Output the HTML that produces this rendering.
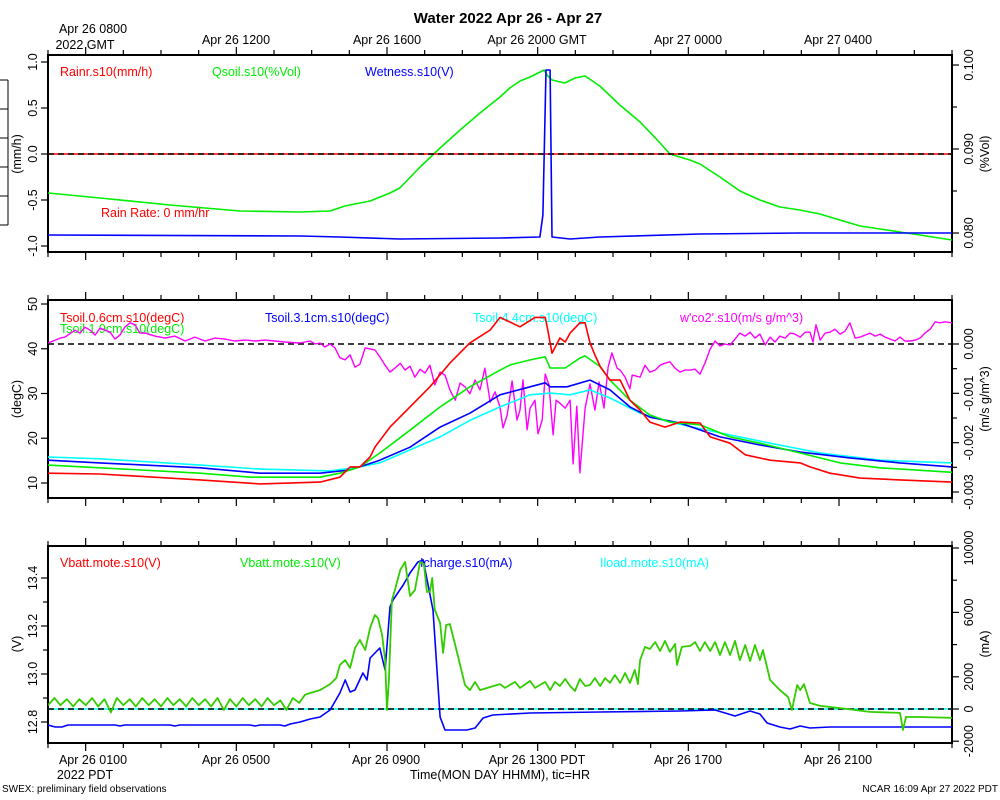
<!DOCTYPE html>
<html><head><meta charset="utf-8"><style>
html,body{margin:0;padding:0;background:#fff;}
svg{display:block;font-family:"Liberation Sans",sans-serif;}
</style></head><body>
<svg id="chart" width="1000" height="800" viewBox="0 0 1000 800">
<defs>
<clipPath id="c1"><rect x="48" y="55" width="904" height="197"/></clipPath>
<clipPath id="c2"><rect x="48" y="300" width="904" height="198"/></clipPath>
<clipPath id="c3"><rect x="48" y="546" width="904" height="197"/></clipPath>
</defs>
<text x="508" y="23" text-anchor="middle" font-size="15" font-weight="bold">Water 2022 Apr 26 - Apr 27</text>
<g font-size="12.5" fill="#000">
<text x="93" y="33" text-anchor="middle">Apr 26 0800</text>
<text x="85" y="49" text-anchor="middle">2022 GMT</text>
<text x="236" y="44" text-anchor="middle">Apr 26 1200</text>
<text x="387" y="44" text-anchor="middle">Apr 26 1600</text>
<text x="537" y="44" text-anchor="middle">Apr 26 2000 GMT</text>
<text x="688" y="44" text-anchor="middle">Apr 27 0000</text>
<text x="838" y="44" text-anchor="middle">Apr 27 0400</text>
</g>
<g font-size="12.5" fill="#000">
<text x="93" y="764" text-anchor="middle">Apr 26 0100</text>
<text x="85" y="779" text-anchor="middle">2022 PDT</text>
<text x="236" y="764" text-anchor="middle">Apr 26 0500</text>
<text x="386" y="764" text-anchor="middle">Apr 26 0900</text>
<text x="537" y="764" text-anchor="middle">Apr 26 1300 PDT</text>
<text x="688" y="764" text-anchor="middle">Apr 26 1700</text>
<text x="838" y="764" text-anchor="middle">Apr 26 2100</text>
<text x="500" y="779" text-anchor="middle">Time(MON DAY HHMM), tic=HR</text>
</g>
<text x="2" y="792" font-size="10">SWEX: preliminary field observations</text>
<text x="998" y="792" font-size="10" text-anchor="end">NCAR 16:09 Apr 27 2022 PDT</text>
<g stroke="#000" stroke-width="1">
<line x1="8" y1="80" x2="8" y2="225"/>
<line x1="0" y1="80" x2="8" y2="80"/><line x1="0" y1="109" x2="8" y2="109"/><line x1="0" y1="138" x2="8" y2="138"/>
<line x1="0" y1="167" x2="8" y2="167"/><line x1="0" y1="196" x2="8" y2="196"/><line x1="0" y1="225" x2="8" y2="225"/>
</g>
<g font-size="12.5">
<text x="60" y="76" fill="#ff0000">Rainr.s10(mm/h)</text>
<text x="212" y="76" fill="#00ee00">Qsoil.s10(%Vol)</text>
<text x="365" y="76" fill="#0000ff">Wetness.s10(V)</text>
<text x="101" y="217" fill="#ff0000">Rain Rate: 0 mm/hr</text>
</g>
<g font-size="12.5">
<text x="60" y="322" fill="#ff0000">Tsoil.0.6cm.s10(degC)</text>
<text x="60" y="333" fill="#00ee00">Tsoil.1.9cm.s10(degC)</text>
<text x="265" y="322" fill="#0000ff">Tsoil.3.1cm.s10(degC)</text>
<text x="473" y="322" fill="#00ffff">Tsoil.4.4cm.s10(degC)</text>
<text x="680" y="322" fill="#ff00ff">w'co2'.s10(m/s g/m^3)</text>
</g>
<g font-size="12.5">
<text x="60" y="567" fill="#ff0000">Vbatt.mote.s10(V)</text>
<text x="240" y="567" fill="#00ee00">Vbatt.mote.s10(V)</text>
<text x="420" y="567" fill="#0000ff">Icharge.s10(mA)</text>
<text x="600" y="567" fill="#00ffff">Iload.mote.s10(mA)</text>
</g>
<g id="plot"></g>
</svg>
<script>
// ---- data (hours since Apr 26 0000 PDT) ----
const qsoilTimes=[0,1.38,3.24,5.10,6.69,7.49,7.88,8.55,9.08,9.34,9.88,10.41,10.94,11.47,12.0,12.26,12.53,12.80,13.17,13.27,13.38,13.72,13.99,14.26,14.65,15.18,15.72,16.25,16.51,17.04,17.31,17.84,18.37,18.90,19.43,19.96,20.49,21.02,21.56,22.09,22.62,23.15,24.0];
const qsoilValues=[0.08476,0.08417,0.08333,0.08262,0.0825,0.08262,0.08321,0.08381,0.08476,0.08536,0.08786,0.09012,0.09226,0.09429,0.09619,0.09726,0.0981,0.09857,0.0994,0.09869,0.09821,0.09786,0.09845,0.09869,0.0975,0.09524,0.09321,0.09071,0.0894,0.08869,0.08821,0.08667,0.085,0.08393,0.0831,0.08274,0.08226,0.08155,0.08083,0.08048,0.08012,0.07976,0.07917];
const wetTimes=[0,6.69,7.75,9.34,12.0,13.06,13.14,13.22,13.33,13.38,13.86,14.65,17.31,19.96,22.62,24];
const wetValues=[-0.88,-0.891,-0.902,-0.924,-0.913,-0.902,-0.663,0.913,0.913,-0.902,-0.924,-0.902,-0.87,-0.859,-0.859,-0.859];
const rainTimes=[0,24];
const rainValues=[0,0];
const t06Times=[0,1.38,4.04,5.63,7.22,7.75,8.02,8.28,8.55,8.68,9.08,9.61,10.14,10.67,11.20,11.74,12.00,12.53,12.93,13.20,13.27,13.38,13.59,13.73,13.86,14.12,14.26,14.39,14.52,14.66,14.92,15.19,15.45,15.72,15.98,16.38,16.78,17.31,17.58,18.11,18.51,19.17,19.97,20.23,20.76,21.56,22.62,24.0];
const t06Values=[12.2,12,10.7,9.8,10.2,11.3,13.6,13.6,15.8,18,22.5,27,31.5,36.8,41.3,44.2,47,44.9,47,47,44.2,39,42.4,41.5,43.5,45.8,45.8,41.3,38.6,36,33,33,28.5,26.3,23.6,22.5,23.6,23.4,20.3,18.9,16.3,15.1,14.5,13.6,12.2,11.1,10.7,10.2];
const t19Times=[0,1.38,4.04,5.37,7.22,7.75,8.28,8.81,9.61,10.41,11.20,12.00,12.27,12.80,13.20,13.33,13.73,14.12,14.26,14.66,14.92,15.45,15.98,16.51,17.31,18.11,18.90,19.97,21.03,22.09,24.0];
const t19Values=[14,13.4,12.2,11.3,11.3,12.2,13.6,16.7,21.8,27,31.5,35.2,36.4,37.5,38.2,35.7,35.7,37.9,38.4,36,33,28.5,25.2,23.6,23,20.3,18.9,16.7,14.5,13.4,12.4];
const t31Times=[0,1.38,4.04,5.63,7.22,8.02,8.81,9.61,10.41,11.20,12.00,12.80,13.20,13.33,13.78,14.39,14.92,15.45,15.98,16.78,17.84,18.90,19.97,21.29,22.62,24.0];
const t31Values=[15.1,14.5,13.4,12.2,12.2,12.9,15.1,18,22.5,25.6,29.7,31.5,32.4,31.5,31.5,33,30.8,27,24.7,23.4,20.3,18.5,16.9,15.6,14.5,13.6];
const t44Times=[0,1.38,4.04,5.63,7.49,8.28,8.81,9.61,10.41,11.20,12.00,12.80,13.33,13.86,14.39,14.92,15.72,16.51,17.84,19.17,20.50,22.09,24.0];
const t44Values=[15.8,15.4,14,13.1,12.7,13.6,14.5,17.4,20.3,24,27,29.7,30.1,29.7,30.8,29,25.6,23.6,21.2,18.9,16.7,15.1,14.5];
const wco2Times=[0,0.19,0.32,0.45,0.72,0.85,0.98,1.12,1.25,1.38,1.65,1.78,1.91,2.04,2.18,2.31,2.44,2.58,2.84,3.11,3.37,3.64,3.90,4.17,4.43,4.70,4.96,5.23,5.50,5.76,6.03,6.29,6.69,6.96,7.09,7.22,7.35,7.49,7.62,7.75,7.89,8.02,8.15,8.28,8.42,8.68,8.81,8.95,9.08,9.21,9.35,9.48,9.61,9.74,9.88,10.01,10.14,10.27,10.41,10.54,10.67,10.81,10.94,11.07,11.20,11.34,11.47,11.60,11.74,11.87,12.00,12.08,12.19,12.32,12.45,12.53,12.61,12.72,12.80,12.93,13.01,13.12,13.20,13.30,13.41,13.49,13.59,13.73,13.86,13.94,14.04,14.12,14.26,14.39,14.52,14.63,14.76,14.87,14.97,15.11,15.19,15.32,15.45,15.51,15.72,15.85,15.98,16.12,16.25,16.38,16.51,16.65,16.78,16.91,17.05,17.18,17.31,17.44,17.58,17.71,17.84,17.97,18.11,18.24,18.37,18.51,18.64,18.77,18.90,19.04,19.17,19.30,19.43,19.57,19.70,19.83,19.97,20.10,20.23,20.31,20.39,20.50,20.63,20.76,20.89,21.03,21.16,21.29,21.43,21.56,21.69,21.82,21.96,22.09,22.22,22.36,22.49,22.62,22.75,22.89,23.02,23.15,23.28,23.42,23.55,23.68,23.82,24.0];
// w'co2' values in units of 1e-4 m/s g/m^3
const wco2Values=[0.2,0.8,1.2,1.4,2.8,2.2,3.4,2.8,1.8,3.2,2.4,1.0,1.8,3.4,4.3,3.9,2.2,2.2,1.6,1.2,1.6,0.6,1.4,0.6,1.2,1.0,0.6,0.8,0.6,0.8,0.6,0.4,0.2,0.6,0,0.2,-0.6,0,-0.8,-2.8,-3.2,-2.2,-4.7,-4.1,-0.8,-1.2,-2.6,-4.3,-5.7,-4.9,-3.9,-5.3,-4.5,-6.7,-5.1,-5.9,-4.3,-8.3,-5.7,-6.3,-9.3,-11.4,-7.9,-8.7,-10.1,-7.3,-9.3,-4.9,-11.8,-9.7,-12.8,-17.0,-14.4,-7.5,-15.4,-13.4,-7.3,-17.4,-13.0,-11.4,-18.2,-15.4,-6.1,-8.3,-18.4,-11.4,-12.0,-13.0,-11.4,-24.3,-12.6,-26.1,-13.0,-8.1,-13.4,-7.7,-13.0,-4.7,-1.8,-4.9,-5.3,-6.7,-9.1,-6.3,-6.7,-4.3,-5.7,-5.3,-4.3,-3.9,-3.6,-4.9,-5.7,-5.3,-5.3,-5.1,-6.1,-3.9,-1.0,0.6,-0.4,0,-0.2,1.0,2.2,1.6,2.4,1.2,2.0,-0.2,1.4,0.4,1.6,1.2,2.2,2.0,1.4,2.4,2.4,0.4,3.9,0.8,2.2,2.4,3.0,2.0,2.6,4.3,1.2,1.4,1.8,2.2,1.6,2.0,1.4,1.0,0.6,1.4,0.6,0.6,0.8,1.2,2.2,3.0,4.5,4.3,4.5,4.3];
const vbattTimes=[0,0.17,0.33,0.5,0.67,0.83,1,1.17,1.33,1.5,1.67,1.83,2,2.17,2.33,2.5,2.67,2.83,3,3.17,3.33,3.5,3.67,3.83,4,4.17,4.33,4.5,4.67,4.83,5,5.17,5.33,5.5,5.67,5.83,6,6.17,6.33,6.5,6.67,6.82,6.96,7.22,7.49,7.65,7.75,7.89,8.02,8.15,8.28,8.42,8.55,8.68,8.76,8.87,8.95,9.00,9.05,9.13,9.21,9.35,9.48,9.61,9.74,9.88,9.98,10.06,10.14,10.20,10.27,10.41,10.49,10.57,10.67,10.81,10.94,11.07,11.20,11.34,11.47,11.74,12.00,12.13,12.40,12.53,12.80,12.93,13.20,13.33,13.46,13.59,13.73,13.86,13.99,14.12,14.26,14.39,14.52,14.66,14.79,14.92,15.05,15.19,15.32,15.45,15.58,15.66,15.72,15.85,15.98,16.12,16.25,16.38,16.51,16.65,16.70,16.83,17.05,17.18,17.31,17.44,17.58,17.71,17.84,17.97,18.11,18.24,18.37,18.51,18.64,18.77,18.90,18.98,19.17,19.43,19.65,19.75,19.89,19.97,20.07,20.23,20.50,21.03,21.82,22.62,22.70,22.78,23.15,24.0];
const vbattValues=[12.87,12.9,12.87,12.895,12.865,12.895,12.87,12.9,12.865,12.895,12.84,12.9,12.87,12.895,12.865,12.9,12.87,12.895,12.865,12.9,12.87,12.895,12.865,12.9,12.87,12.895,12.865,12.9,12.85,12.895,12.865,12.9,12.87,12.895,12.865,12.9,12.87,12.89,12.85,12.9,12.88,12.913,12.921,12.933,12.958,12.983,13.038,13.058,13.025,13.108,13.142,13.1,13.192,13.246,13.233,13.163,13.058,12.85,12.975,13.308,13.35,13.433,13.467,13.325,13.35,13.467,13.458,13.342,13.342,13.4,13.267,13.213,13.088,13.204,13.208,13.121,13.038,12.954,12.933,12.967,12.933,12.946,12.958,12.942,12.967,12.942,12.971,12.942,12.967,12.933,12.967,12.95,12.979,12.95,12.929,12.979,12.95,12.954,12.983,12.95,12.983,12.963,12.996,12.963,13.004,12.963,13.017,12.958,13.058,13.113,13.104,13.133,13.096,13.138,13.092,13.125,13.038,13.113,13.117,13.133,13.096,13.133,13.096,13.133,13.079,13.133,13.079,13.138,13.058,13.121,13.054,13.121,13.058,13.1,12.975,12.933,12.904,12.85,12.954,12.933,12.958,12.879,12.867,12.858,12.842,12.838,12.767,12.821,12.821,12.817];
const ichargeTimes=[0,0.19,0.37,0.53,1.78,1.91,2.04,3.24,3.37,3.5,5.36,5.5,5.63,6.16,6.29,6.43,6.69,6.96,7.22,7.49,7.75,7.89,8.02,8.15,8.36,8.47,8.55,8.81,8.95,9.08,9.16,9.43,9.61,9.82,9.96,10.22,10.41,10.54,11.12,11.34,11.55,11.81,12.8,14.66,16.78,17.71,18.24,18.64,18.9,19.09,19.43,19.7,19.97,20.23,20.76,24];
const ichargeValues=[-994,-1118,-1118,-994,-994,-1056,-994,-994,-1056,-994,-994,-1056,-994,-994,-1056,-932,-807,-621,-497,-62,994,1801,1056,1180,2236,1801,3167,3788,2422,6334,6769,7700,8446,9129,9253,6148,-497,-1304,-1304,-1180,-559,-373,-248,-186,-124,-62,-435,-124,-311,-869,-1118,-1242,-1056,-1180,-1118,-1118];
const iloadTimes=[0,24];
const iloadValues=[0,0];
// tick labels
const topTickLabels=["1.0","0.5","0.0","-0.5","-1.0"];
const topTickValues=[1,0.5,0,-0.5,-1];
const qTickLabels=["0.100","0.090","0.080"];
const qTickValues=[0.1,0.09,0.08];
const tempTickValues=[50,40,30,20,10];
const wTickLabels=["0.000","-0.001","-0.002","-0.003"];
const wTickValues=[0,-10,-20,-30];
const vTickLabels=["13.4","13.2","13.0","12.8"];
const vTickValues=[13.4,13.2,13.0,12.8];
const mATickLabels=["10000","6000","2000","0","-2000"];
const mATickValues=[10000,6000,2000,0,-2000];

// ---- scales ----
const X0=48,X1=952;
const xS=h=>X0+h*(X1-X0)/24;
const yRain=v=>154-92*v;
const yQ=q=>149-(q-0.09)*8400;
const yT=t=>304+(50-t)*4.475;
const yW=w=>344-w*4.933;
const yV=v=>722-(v-12.8)*240;
const yMA=m=>709-m*0.0161;

const NS="http://www.w3.org/2000/svg";
const plot=document.getElementById('plot');
function mk(tag,attrs,parent){const e=document.createElementNS(NS,tag);for(const k in attrs)e.setAttribute(k,attrs[k]);(parent||plot).appendChild(e);return e;}
function series(ts,vs,yf,color,clip,w,dash){
  const pts=ts.map((t,i)=>xS(t).toFixed(1)+","+yf(vs[i]).toFixed(1)).join(" ");
  const a={points:pts,fill:"none",stroke:color,"stroke-width":w||1.6,"clip-path":"url(#"+clip+")","stroke-linejoin":"round"};
  if(dash)a["stroke-dasharray"]=dash;
  return mk("polyline",a);
}
// panels
function panel(top,bot,name){
  const r=mk("rect",{x:X0,y:top,width:X1-X0,height:bot-top,fill:"none",stroke:"#000","stroke-width":2});
  
  
  for(let h=0;h<=24;h++){
    const major=(h%4===1);
    const L=major?8:5;const x=xS(h);
    const t1=mk("line",{x1:x,y1:top-L,x2:x,y2:top,stroke:"#000","stroke-width":1.2});
    
    
    const t2=mk("line",{x1:x,y1:bot,x2:x,y2:bot+L,stroke:"#000","stroke-width":1.2});
    
    
  }
}
panel(55,252,'panel-water');
panel(300,498,'panel-soil-temp');
panel(546,743,'panel-power');
function ylabels(vals,labels,yf,side,fmt,name){
  vals.forEach((v,i)=>{
    const y=yf(v);
    const x=side==="L"?X0:X1;
    const tk=mk("line",{x1:x,y1:y,x2:side==="L"?x-7:x+7,y2:y,stroke:"#000","stroke-width":1.2});
    
    
    const lbl=labels?labels[i]:(fmt?fmt(v):String(v));
    if(lbl===null)return;
    const lx=side==="L"?33:969;
    const t=mk("text",{x:lx,y:y,"font-size":12.5,"text-anchor":"middle",transform:"rotate(-90 "+lx+" "+y+")",dy:"4"});
    t.textContent=lbl;
    
    
  });
}
function minor(vals,yf,side){vals.forEach(v=>{const y=yf(v);const x=side==="L"?X0:X1;mk("line",{x1:x,y1:y,x2:side==="L"?x-5:x+5,y2:y,stroke:"#000","stroke-width":1.2});});}
ylabels(topTickValues,topTickLabels,yRain,"L",null,'y-axis-rain');
ylabels(qTickValues,qTickLabels,yQ,"R",null,'y-axis-qsoil');
minor([0.095,0.085],yQ,"R");
ylabels(tempTickValues,null,yT,"L",null,'y-axis-temp');
ylabels(wTickValues,wTickLabels,yW,"R",null,'y-axis-wco2');
minor([-5,-15,-25],yW,"R");
ylabels(vTickValues,vTickLabels,yV,"L",null,'y-axis-vbatt');
minor([13.3,13.1,12.9],yV,"L");
ylabels(mATickValues,mATickLabels,yMA,"R",null,'y-axis-current');
minor([8000,4000],yMA,"R");
// axis titles
[["(mm/h)",17,154,'y-axis-title-rain'],["(%Vol)",985,154,'y-axis-title-qsoil'],["(degC)",17,399,'y-axis-title-temp'],["(m/s g/m^3)",985,399,'y-axis-title-wco2'],["(V)",17,644,'y-axis-title-vbatt'],["(mA)",985,644,'y-axis-title-current']].forEach(a=>{
  const t=mk("text",{x:a[1],y:a[2],"font-size":12.5,"text-anchor":"middle",transform:"rotate(-90 "+a[1]+" "+a[2]+")",dy:"4"});
  t.textContent=a[0];
  
  
});
// series
let s;
s=series(qsoilTimes,qsoilValues,yQ,"#00ee00","c1");


s=series(rainTimes,rainValues,yRain,"#ff0000","c1",1.6);


s=series(rainTimes,rainValues,yRain,"#000","c1",1.6,"6,4");


s=series(wetTimes,wetValues,yRain,"#0000ff","c1");


s=series([0,24],[0,0],yW,"#000","c2",1.6,"6,4");


s=series(wco2Times,wco2Values,yW,"#ff00ff","c2",1.4);


s=series(t44Times,t44Values,yT,"#00ffff","c2");


s=series(t31Times,t31Values,yT,"#0000ff","c2");


s=series(t19Times,t19Values,yT,"#00ee00","c2");


s=series(t06Times,t06Values,yT,"#ff0000","c2");


s=series(iloadTimes,iloadValues,yMA,"#00ffff","c3",1.6);


s=series(iloadTimes,iloadValues,yMA,"#000","c3",1.6,"6,4");


s=series(ichargeTimes,ichargeValues,yMA,"#0000ff","c3");


s=series(vbattTimes,vbattValues,yV,"#33cc00","c3",1.8);


</script>
</body></html>
